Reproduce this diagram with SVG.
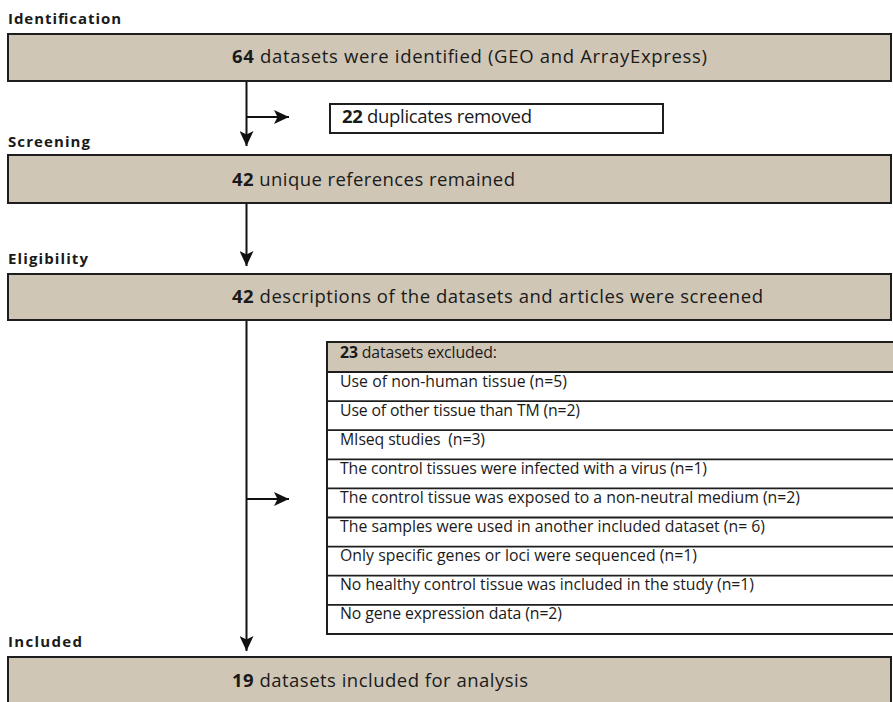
<svg xmlns="http://www.w3.org/2000/svg" width="893" height="702" viewBox="0 0 893 702">
  <style>
    .stage { font-family: "Open Sans", "Noto Sans", sans-serif; font-weight: 700; font-size: 15px; fill: #1a1a1a; }
    .main { font-family: "Open Sans", "Noto Sans", sans-serif; font-size: 18.5px; fill: #1a1a1a; }
    .row { font-family: "Open Sans", "Noto Sans", sans-serif; font-size: 15.8px; fill: #1a1a1a; }
    .num { font-weight: 700; }
    .box { fill: #cfc6b6; stroke: #1e1e1e; stroke-width: 2; }
    .plain { fill: #ffffff; stroke: #1e1e1e; stroke-width: 2; }
    .sep { stroke: #1e1e1e; stroke-width: 1.8; }
    .link { fill: none; stroke: #111111; stroke-width: 2; }
  </style>
  <defs>
    <marker id="head" viewBox="0 0 15 14" refX="15" refY="7" markerWidth="15" markerHeight="14" markerUnits="userSpaceOnUse" orient="auto">
      <path d="M0,0 L15,7 L0,14 L3.5,7 Z" fill="#111111"/>
    </marker>
  </defs>

  <rect width="893" height="702" fill="#ffffff"/>

  <!-- stage labels -->
  <g id="stages">
    <text class="stage" x="8" y="24" textLength="113">Identification</text>
    <text class="stage" x="8" y="146.5" textLength="82">Screening</text>
    <text class="stage" x="8" y="264" textLength="80">Eligibility</text>
    <text class="stage" x="8" y="647" textLength="74">Included</text>
  </g>

  <!-- connectors -->
  <g id="connectors">
    <path class="link" d="M246.5,81 V146" marker-end="url(#head)"/>
    <path class="link" d="M246.5,117 H289" marker-end="url(#head)"/>
    <path class="link" d="M246.5,203 V266" marker-end="url(#head)"/>
    <path class="link" d="M246.5,320 V651" marker-end="url(#head)"/>
    <path class="link" d="M246.5,499 H289" marker-end="url(#head)"/>
  </g>

  <g id="identified">
    <rect class="box" x="8" y="34" width="883" height="47"/>
    <text class="main" x="232" y="63" textLength="475"><tspan class="num">64</tspan> datasets were identified (GEO and ArrayExpress)</text>
  </g>

  <g id="duplicates">
    <rect class="plain" x="330" y="104" width="333" height="29"/>
    <text class="main" x="342" y="123" textLength="190"><tspan class="num">22</tspan> duplicates removed</text>
  </g>

  <g id="unique">
    <rect class="box" x="8" y="155" width="883" height="48"/>
    <text class="main" x="232" y="186" textLength="283"><tspan class="num">42</tspan> unique references remained</text>
  </g>

  <g id="screened">
    <rect class="box" x="8" y="274" width="883" height="46"/>
    <text class="main" x="232" y="303" textLength="531"><tspan class="num">42</tspan> descriptions of the datasets and articles were screened</text>
  </g>

  <g id="excluded">
    <rect class="plain" x="327" y="342" width="580" height="292"/>
    <rect class="box" x="327" y="342" width="580" height="30"/>
    <line class="sep" x1="327" y1="401.1" x2="893" y2="401.1"/>
    <line class="sep" x1="327" y1="430.2" x2="893" y2="430.2"/>
    <line class="sep" x1="327" y1="459.3" x2="893" y2="459.3"/>
    <line class="sep" x1="327" y1="488.4" x2="893" y2="488.4"/>
    <line class="sep" x1="327" y1="517.5" x2="893" y2="517.5"/>
    <line class="sep" x1="327" y1="546.6" x2="893" y2="546.6"/>
    <line class="sep" x1="327" y1="575.7" x2="893" y2="575.7"/>
    <line class="sep" x1="327" y1="604.8" x2="893" y2="604.8"/>
    <text class="row" x="340" y="358" textLength="157"><tspan class="num">23</tspan> datasets excluded:</text>
    <text class="row" x="340" y="386.5" textLength="227">Use of non-human tissue (n=5)</text>
    <text class="row" x="340" y="415.6" textLength="240">Use of other tissue than TM (n=2)</text>
    <text class="row" x="340" y="444.7" textLength="145" xml:space="preserve">MIseq studies  (n=3)</text>
    <text class="row" x="340" y="473.8" textLength="367">The control tissues were infected with a virus (n=1)</text>
    <text class="row" x="340" y="502.9" textLength="460">The control tissue was exposed to a non-neutral medium (n=2)</text>
    <text class="row" x="340" y="532" textLength="425">The samples were used in another included dataset (n= 6)</text>
    <text class="row" x="340" y="561.1" textLength="357">Only specific genes or loci were sequenced (n=1)</text>
    <text class="row" x="340" y="590.2" textLength="414">No healthy control tissue was included in the study (n=1)</text>
    <text class="row" x="340" y="619.3" textLength="222">No gene expression data (n=2)</text>
  </g>

  <g id="included">
    <rect class="box" x="8" y="657" width="883" height="60"/>
    <text class="main" x="232" y="687" textLength="296"><tspan class="num">19</tspan> datasets included for analysis</text>
  </g>
</svg>
